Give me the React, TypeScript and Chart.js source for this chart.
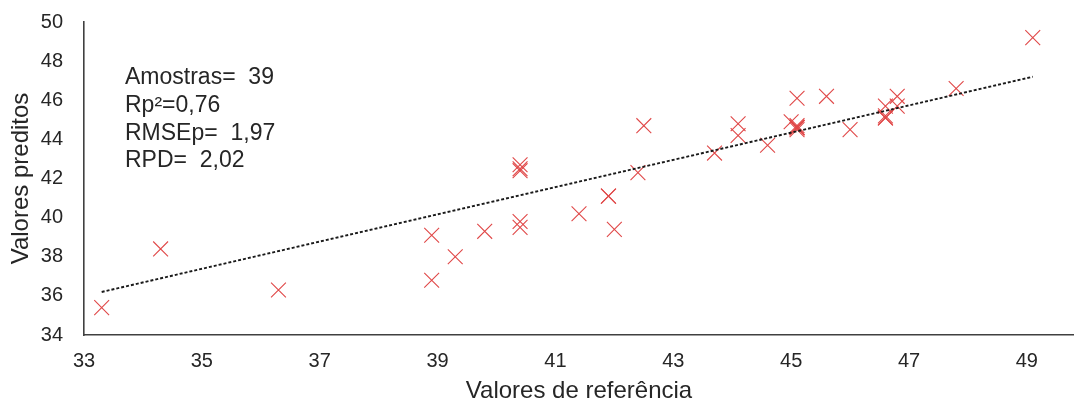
import React, { useEffect, useRef } from "react";
import { Chart, registerables } from "chart.js";

Chart.register(...registerables);

const refValues = [
  33.3, 34.3, 36.3, 38.9, 38.9, 39.3, 39.8, 40.4, 40.4, 40.4, 40.4, 40.4, 41.4, 41.9, 41.9,
  42.0, 42.4, 42.5, 43.7, 44.1, 44.1, 44.6, 45.1, 45.0, 45.1, 45.1, 45.1, 45.6, 46.0, 46.6,
  46.6, 46.6, 46.6, 46.8, 46.8, 47.8, 49.1, 45.1, 45.1,
];
const predValues = [
  35.4, 38.4, 36.3, 39.1, 36.8, 38.0, 39.3, 42.7, 42.4, 39.8, 39.5, 42.5, 40.2, 41.1, 41.1,
  39.4, 42.3, 44.7, 43.3, 44.8, 44.2, 43.7, 46.1, 44.9, 44.7, 44.6, 44.5, 46.2, 44.5, 45.7,
  45.1, 45.1, 45.2, 46.2, 45.7, 46.6, 49.2, 44.6, 44.6,
];
const trendX = [33.3, 49.1];
const trendY = [36.2, 47.2];
const xTicks = [33, 35, 37, 39, 41, 43, 45, 47, 49];
const yTicks = [34, 36, 38, 40, 42, 44, 46, 48, 50];
const statsLines = ["Amostras=  39", "Rp²=0,76", "RMSEp=  1,97", "RPD=  2,02"];
const xTitle = "Valores de referência";
const yTitle = "Valores preditos";

const FONT = '"Liberation Sans", Arial, sans-serif';
const TEXT = "#262626";
const AXIS = "#404040";
const RED = "#e04848";

const statsPlugin = {
  id: "statsText",
  afterDatasetsDraw(chart: any) {
    const { ctx, chartArea } = chart;
    ctx.save();
    ctx.font = `23px ${FONT}`;
    ctx.fillStyle = TEXT;
    ctx.textBaseline = "middle";
    ctx.textAlign = "left";
    statsLines.forEach((line, i) => {
      ctx.fillText(line, chartArea.left + 41, chartArea.top + 56 + i * 27.6);
    });
    ctx.restore();
  },
};

export default function App() {
  const canvasRef = useRef<HTMLCanvasElement | null>(null);

  useEffect(() => {
    if (!canvasRef.current) return;
    const chart = new Chart(canvasRef.current, {
      type: "scatter",
      data: {
        datasets: [
          {
            label: "trend",
            data: trendX.map((x, i) => ({ x, y: trendY[i] })),
            showLine: true,
            borderColor: "#1a1a1a",
            borderWidth: 1.9,
            borderDash: [3, 2],
            pointRadius: 0,
            fill: false,
          },
          {
            label: "amostras",
            data: refValues.map((x, i) => ({ x, y: predValues[i] })),
            pointStyle: "crossRot",
            pointRadius: 10.5,
            borderColor: RED,
            backgroundColor: RED,
            borderWidth: 1.1,
          },
        ],
      },
      options: {
        responsive: false,
        animation: false,
        layout: { autoPadding: false, padding: { top: 22, right: 0, bottom: 0, left: 0 } },
        plugins: {
          legend: { display: false },
          tooltip: { enabled: false },
        },
        scales: {
          x: {
            type: "linear",
            min: 33,
            max: 49.8,
            afterBuildTicks: (s: any) => {
              s.ticks = xTicks.map((v) => ({ value: v }));
            },
            afterFit: (s: any) => {
              s.height = 68;
              s.paddingRight = 0;
              s.paddingLeft = 0;
            },
            grid: { display: false, drawTicks: false },
            border: { display: true, color: AXIS, width: 1.6 },
            ticks: {
              color: TEXT,
              font: { family: FONT, size: 20 },
              padding: 14,
              maxRotation: 0,
            },
            title: {
              display: true,
              text: xTitle,
              color: TEXT,
              font: { family: FONT, size: 24, lineHeight: 1.0 },
              padding: { top: 0, bottom: 0 },
            },
          },
          y: {
            type: "linear",
            min: 34,
            max: 50,
            afterBuildTicks: (s: any) => {
              s.ticks = yTicks.map((v) => ({ value: v }));
            },
            afterFit: (s: any) => {
              s.width = 84;
              s.paddingTop = 0;
              s.paddingBottom = 0;
            },
            grid: { display: false, drawTicks: false },
            border: { display: true, color: AXIS, width: 1.6 },
            ticks: {
              color: TEXT,
              font: { family: FONT, size: 20 },
              padding: 21,
            },
            title: {
              display: true,
              text: yTitle,
              color: TEXT,
              font: { family: FONT, size: 24 },
              padding: { top: 7, bottom: 0 },
            },
          },
        },
      },
      plugins: [statsPlugin],
    });
    return () => chart.destroy();
  }, []);

  return (
    <div style={{ position: "absolute", left: 0, top: 0, width: 1074, height: 403, background: "#fff" }}>
      <canvas ref={canvasRef} width={1074} height={403} style={{ display: "block" }} />
    </div>
  );
}
